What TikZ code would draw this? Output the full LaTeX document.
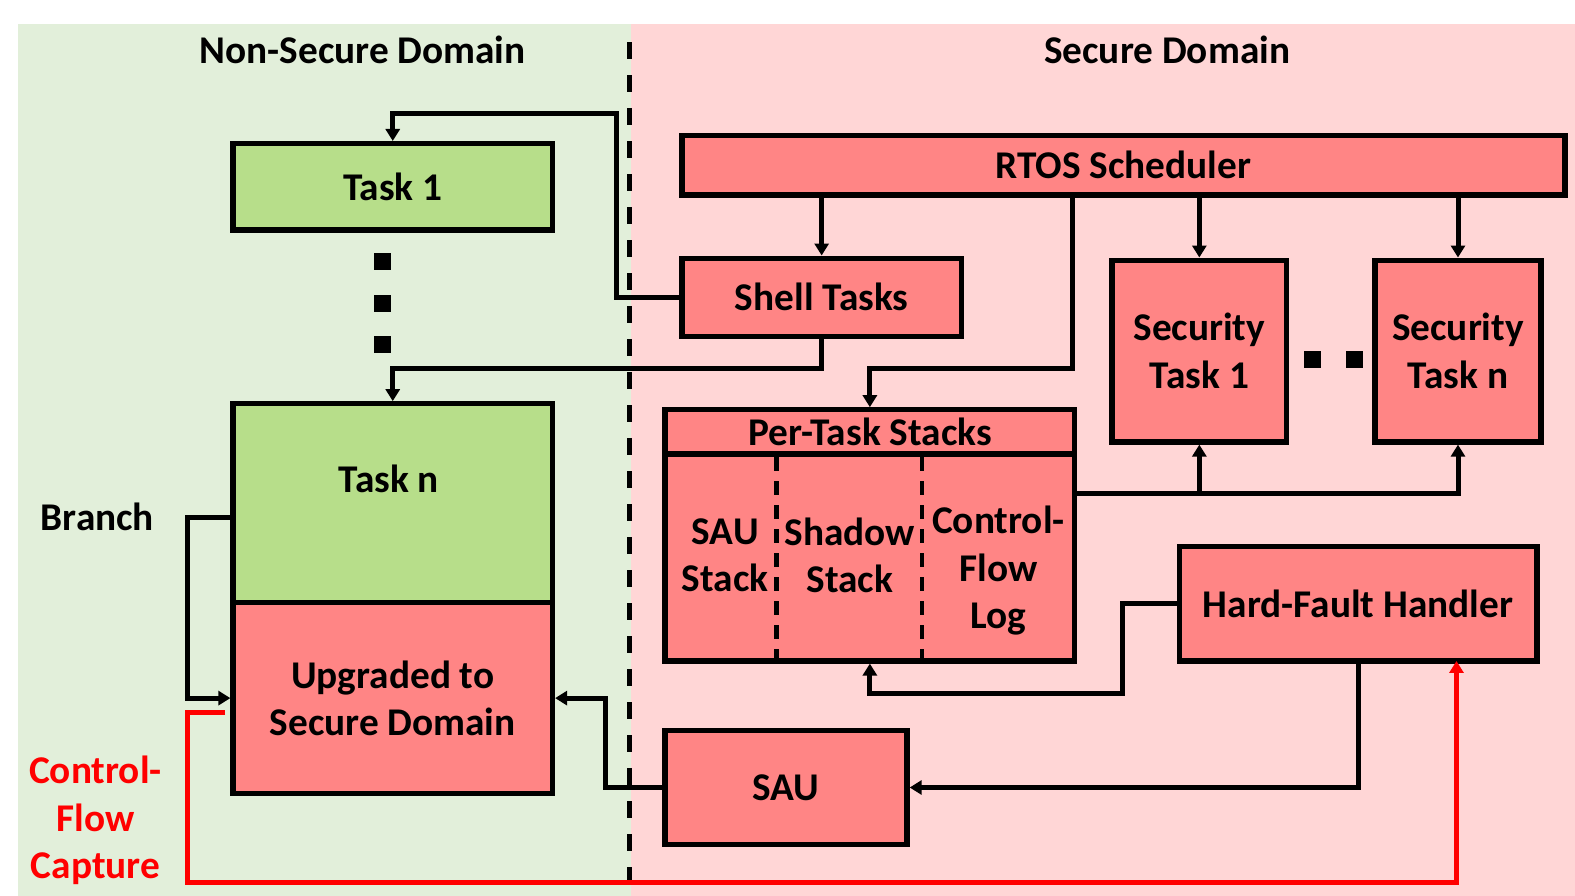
\documentclass[tikz,border=0pt]{standalone}
\usepackage{fontspec}
\setmainfont{Carlito}
\usetikzlibrary{arrows.meta,calc}
\definecolor{bggreen}{RGB}{226,239,218}
\definecolor{bgpink}{RGB}{255,214,214}
\definecolor{boxgreen}{RGB}{183,222,138}
\definecolor{boxred}{RGB}{255,133,133}
\definecolor{cfred}{RGB}{255,0,0}
\newcommand{\lblfont}{\fontsize{39.3}{47.5}\selectfont\bfseries}
\tikzset{
  box/.style={draw=black, line width=5.3pt, inner sep=0pt, align=center, font=\lblfont},
  sz/.style 2 args={minimum width=#1*1.0045pt, minimum height=#2*1.0045pt},
  gbox/.style={box, fill=boxgreen},
  rbox/.style={box, fill=boxred},
  txt/.style={inner sep=0pt, align=center, font=\lblfont},
  arr/.style={line width=5pt, -{Triangle[length=12pt,width=14pt]}},
  redarr/.style={line width=5pt, draw=cfred, -{Triangle[length=12pt,width=14pt]}},
  domline/.style={line width=5pt, dash pattern=on 17pt off 16pt},
  coldiv/.style={line width=4.5pt, dash pattern=on 14pt off 10pt},
  dot/.style={fill=black}
}
\begin{document}
\begin{tikzpicture}[x=1.0045pt,y=-1.0045pt]
\useasboundingbox (0,0) rectangle (1568,892);
% backgrounds
\fill[bggreen] (18,24) rectangle (628,892);
\fill[bgpink] (628,24) rectangle (1568,892);
\draw[domline] (627,42) -- (627,880);
\node[txt] (nsd) at (361,50) {Non-Secure Domain};
\node[txt] (sd) at (1162,50) {Secure Domain};

% non-secure boxes
\node[gbox, sz={318}{86}] (task1) at (391,186) {Task 1};
\node[gbox, sz={318}{198}] (taskn) at (391,501) {};
\node[txt] (tasknlbl) at (387,477) {Task n};
\node[rbox, sz={318}{190}] (upg) at (391,695) {Upgraded to\\Secure Domain};
\fill[dot] (372.5,251.5) rectangle ++(17,17);
\fill[dot] (372.5,293.5) rectangle ++(17,17);
\fill[dot] (372.5,334.5) rectangle ++(17,17);

% secure boxes
\node[rbox, sz={879}{59}] (rtos) at (1118.5,164.5) {RTOS Scheduler};
\node[rbox, sz={278}{78}] (shell) at (818,296) {Shell Tasks};
\node[rbox, sz={174}{181}] (sec1) at (1194,349.5) {Security\\Task 1};
\node[rbox, sz={165}{181}] (secn) at (1451.5,349.5) {Security\\Task n};
\fill[dot] (1298,349) rectangle ++(17,17);
\fill[dot] (1340,349) rectangle ++(17,17);
\node[rbox, sz={408}{250}] (pts) at (866,533) {};
\draw[line width=5.3pt] (pts.north west |- 0,452) -- (pts.north east |- 0,452);
\node[txt] (ptslbl) at (866,430) {Per-Task Stacks};
\draw[coldiv] (773,455) -- (773,655);
\draw[coldiv] (918,455) -- (918,655);
\node[txt] (saustk) at (722,553) {SAU\\Stack};
\node[txt] (shstk) at (846,553) {Shadow\\Stack};
\node[txt] (cflog) at (994,568) {Control-\\Flow\\Log};
\node[rbox, sz={356}{114}] (hf) at (1352,601) {Hard-Fault Handler};
\node[rbox, sz={241}{114}] (sau) at (782.5,784) {SAU};

% side labels
\node[txt] (branch) at (97,515) {Branch};
\node[txt, text=cfred] (cfc) at (95,817) {Control-\\Flow\\Capture};

% connectors
\coordinate (c1) at (1068,0);
\coordinate (ptsR) at (1070,491);
\coordinate (br) at (230,515);
\coordinate (cfs) at (224,709);
\coordinate (hfin) at (1450,658);

\draw[arr] (shell.north |- rtos.south) -- (shell.north);
\draw[arr] (sec1.north |- rtos.south) -- (sec1.north);
\draw[arr] (secn.north |- rtos.south) -- (secn.north);
\draw[arr] (rtos.south -| c1) |- ($(pts.north)+(0,-39)$) -- (pts.north);
\draw[arr] (shell.west) -| (614,113) -| (task1.north);
\draw[arr] (shell.south) |- ($(taskn.north)+(0,-33)$) -- (taskn.north);
\draw[arr] (ptsR) -| (secn.south);
\draw[arr] (sec1.south |- ptsR) -- (sec1.south);
\draw[arr] (hf.west) -- ++(-54,0) |- ($(pts.south)+(0,30)$) -- (pts.south);
\draw[arr] (hf.south) |- (sau.east);
\draw[arr] (sau.west) -- ++(-57,0) |- (upg.east);
\draw[arr] (br) -- ++(-43,0) |- (upg.west);
\draw[redarr] (cfs) -| (187,879) -| (hfin);
\end{tikzpicture}
\end{document}
